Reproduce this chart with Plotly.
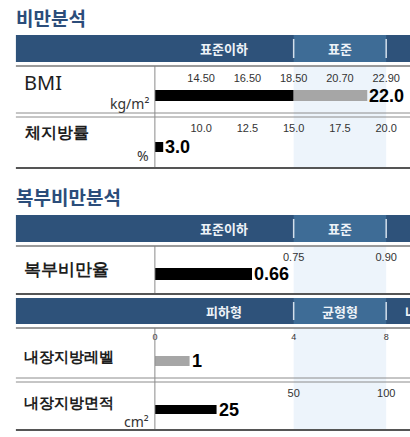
import numpy as np
import plotly.graph_objects as go

W, H = 410, 437

# ---- data -------------------------------------------------------------
sections = ["비만분석", "복부비만분석"]
rows = ["BMI", "체지방률", "복부비만율", "내장지방레벨", "내장지방면적"]
units = ["kg/m²", "%", "", "", "cm²"]
values = [22.0, 3.0, 0.66, 1, 25]
decimals = [1, 1, 2, 0, 0]

bmi_ticks = [14.50, 16.50, 18.50, 20.70, 22.90]
fat_ticks = [10.0, 12.5, 15.0, 17.5, 20.0]
whr_ticks = [0.75, 0.90]
level_ticks = [0, 4, 8]
area_ticks = [50, 100]
tick_labels = [
    ["14.50", "16.50", "18.50", "20.70", "22.90"],
    ["10.0", "12.5", "15.0", "17.5", "20.0"],
    ["0.75", "0.90"],
    ["0", "4", "8"],
    ["50", "100"],
]
tick_values = [bmi_ticks, fat_ticks, whr_ticks, level_ticks, area_ticks]

# zone scale: value anchors mapped onto equal-width slots of the bar area
scale_values = [
    [12.5] + bmi_ticks,
    [7.5] + fat_ticks,
    [0.45, 0.75, 0.90],
    [0, 4, 8],
    [5, 50, 100],
]
scale_slots = [
    [0, 1, 2, 3, 4, 5],
    [0, 1, 2, 3, 4, 5],
    [0, 3, 5],
    [0, 3, 5],
    [0, 3, 5],
]
# bar colour below / above the lower limit of the normal zone
split_values = [18.50, 15.0, 0.75, 4, 50]
low_colors = ["#000000", "#000000", "#000000", "#a6a6a6", "#000000"]
high_colors = ["#a6a6a6", "#a6a6a6", "#a6a6a6", "#a6a6a6", "#a6a6a6"]

header_labels = [["표준이하", "표준"], ["표준이하", "표준"], ["피하형", "균형형", "내장형"]]

# ---- layout constants (pixels) ----------------------------------------
SLOT = 46.6
X0 = 153
LEFT = 13
MIN_STUB = 0.18

bar_band = [(90, 101), (142, 152), (268, 280), (356, 366), (405, 414)]
tick_gap = [5, 7, 4, 13, 5]
tick_size = [11, 11, 11, 9, 11]
label_y = [83, 132, 268, 356, 402]
label_size = [20, 16, 17, 15, 15]
unit_y = [103, 155, 0, 0, 421]

headers = [(35, 62), (215, 242), (298, 324)]
header_axis = ["x", "x3", "x4"]
blocks = [(66, 168), (246, 294), (328, 430)]


def px(p):
    return p / W


def py(p):
    return 1 - p / H


fig = go.Figure()
layout_axes = {}
annotations = []
shapes = []

for i, name in enumerate(rows):
    n = "" if i == 0 else str(i + 1)
    xa, ya = "x" + n, "y" + n
    to_slot = lambda v, i=i: float(np.interp(v, scale_values[i], scale_slots[i]))
    floor = scale_values[i][0]
    v = values[i]
    split = split_values[i]

    # bar segments from the axis floor to the value
    segs = []
    if v <= floor:
        segs.append((0.0, MIN_STUB, low_colors[i]))
    elif v <= split:
        segs.append((0.0, to_slot(v), low_colors[i]))
    else:
        segs.append((0.0, to_slot(split), low_colors[i]))
        segs.append((to_slot(split), to_slot(v), high_colors[i]))
    for s0, s1, c in segs:
        fig.add_trace(go.Bar(
            x=[s1 - s0], base=[s0], y=[0], orientation="h", width=1,
            marker=dict(color=c, line=dict(width=0)),
            xaxis=xa, yaxis=ya, showlegend=False, hoverinfo="skip",
        ))
    end = segs[-1][1]

    top, bot = bar_band[i]
    layout_axes["xaxis" + n] = dict(
        domain=[px(X0), 1], range=[0, (W - X0) / SLOT], anchor=ya, side="top",
        tickvals=[to_slot(t) for t in tick_values[i]], ticktext=tick_labels[i],
        tickfont=dict(family="Liberation Sans", size=tick_size[i], color="#333333"),
        ticks="", showgrid=False, zeroline=False, showline=False,
        ticklabelstandoff=tick_gap[i], fixedrange=True,
    )
    layout_axes["yaxis" + n] = dict(
        domain=[py(bot), py(top)], range=[-0.5, 0.5], anchor=xa,
        visible=False, fixedrange=True,
    )

    # value label at the end of the bar
    annotations.append(dict(
        x=end, y=0, xref=xa, yref=ya, xanchor="left", yanchor="middle", xshift=0,
        text="<b>%.*f</b>" % (decimals[i], v), showarrow=False,
        font=dict(family="Liberation Sans", size=18, color="#000000"),
    ))

    # row label and unit
    annotations.append(dict(
        x=px(19), y=py(label_y[i]), xref="paper", yref="paper",
        xanchor="left", yanchor="middle", showarrow=False,
        text=name if i == 0 else "<b>%s</b>" % name,
        font=dict(family="Noto Sans", size=label_size[i], color="#1e1e1e"),
    ))
    if units[i]:
        annotations.append(dict(
            x=px(149), y=py(unit_y[i]), xref="paper", yref="paper",
            xanchor="right", yanchor="middle", showarrow=False, text=units[i],
            font=dict(family="Noto Sans", size=14, color="#333333"),
        ))

# section titles
for t, yc in zip(sections, [18, 196]):
    annotations.append(dict(
        x=px(11), y=py(yc), xref="paper", yref="paper", xanchor="left",
        yanchor="middle", showarrow=False, text="<b>%s</b>" % t,
        font=dict(family="Noto Sans CJK KR", size=19, color="#2b4d7a"),
    ))

# header bars with zone captions
for (t0, t1), xa, labels in zip(headers, header_axis, header_labels):
    shapes.append(dict(type="rect", xref="paper", yref="paper", x0=px(LEFT), x1=1,
                       y0=py(t1), y1=py(t0), fillcolor="#2e527a", line=dict(width=0), layer="below"))
    shapes.append(dict(type="rect", xref=xa, yref="paper", x0=3, x1=5,
                       y0=py(t1), y1=py(t0), fillcolor="#3e6c96", line=dict(width=0), layer="below"))
    for s in (3, 5):
        shapes.append(dict(type="line", xref=xa, yref="paper", x0=s, x1=s,
                           y0=py(t1 - 4), y1=py(t0 + 4), line=dict(color="#d3dfeb", width=1.5)))
    for lab, s in zip(labels, [1.5, 4, 5.8]):
        annotations.append(dict(
            x=px(X0 + s * SLOT), y=py((t0 + t1) / 2), xref="paper", yref="paper",
            xanchor="center", yanchor="middle", showarrow=False, text="<b>%s</b>" % lab,
            font=dict(family="Noto Sans CJK KR", size=13, color="#eef3f8"),
        ))

# normal-zone shading, dividers and rules of each block
for (b0, b1), xa in zip(blocks, header_axis):
    shapes.append(dict(type="rect", xref=xa, yref="paper", x0=3, x1=5,
                       y0=py(b1), y1=py(b0), fillcolor="#edf4fb", line=dict(width=0), layer="below"))
    shapes.append(dict(type="line", xref="paper", yref="paper", x0=px(X0), x1=px(X0),
                       y0=py(b1), y1=py(b0), line=dict(color="#8a8a8a", width=1)))
    shapes.append(dict(type="line", xref="paper", yref="paper", x0=px(LEFT), x1=1,
                       y0=py(b0), y1=py(b0), line=dict(color="#7a7a7a", width=1.5)))
    shapes.append(dict(type="line", xref="paper", yref="paper", x0=px(LEFT), x1=1,
                       y0=py(b1), y1=py(b1), line=dict(color="#555555", width=2)))

# double rules between rows inside a block
for yy in (113, 117, 378, 382):
    shapes.append(dict(type="line", xref="paper", yref="paper", x0=px(LEFT), x1=1,
                       y0=py(yy), y1=py(yy), line=dict(color="#8c8c8c", width=1)))

fig.update_layout(
    width=W, height=H, margin=dict(l=0, r=0, t=0, b=0),
    paper_bgcolor="#ffffff", plot_bgcolor="rgba(0,0,0,0)",
    barmode="overlay", showlegend=False,
    annotations=annotations, shapes=shapes, **layout_axes,
)

fig.write_html("out.html")
